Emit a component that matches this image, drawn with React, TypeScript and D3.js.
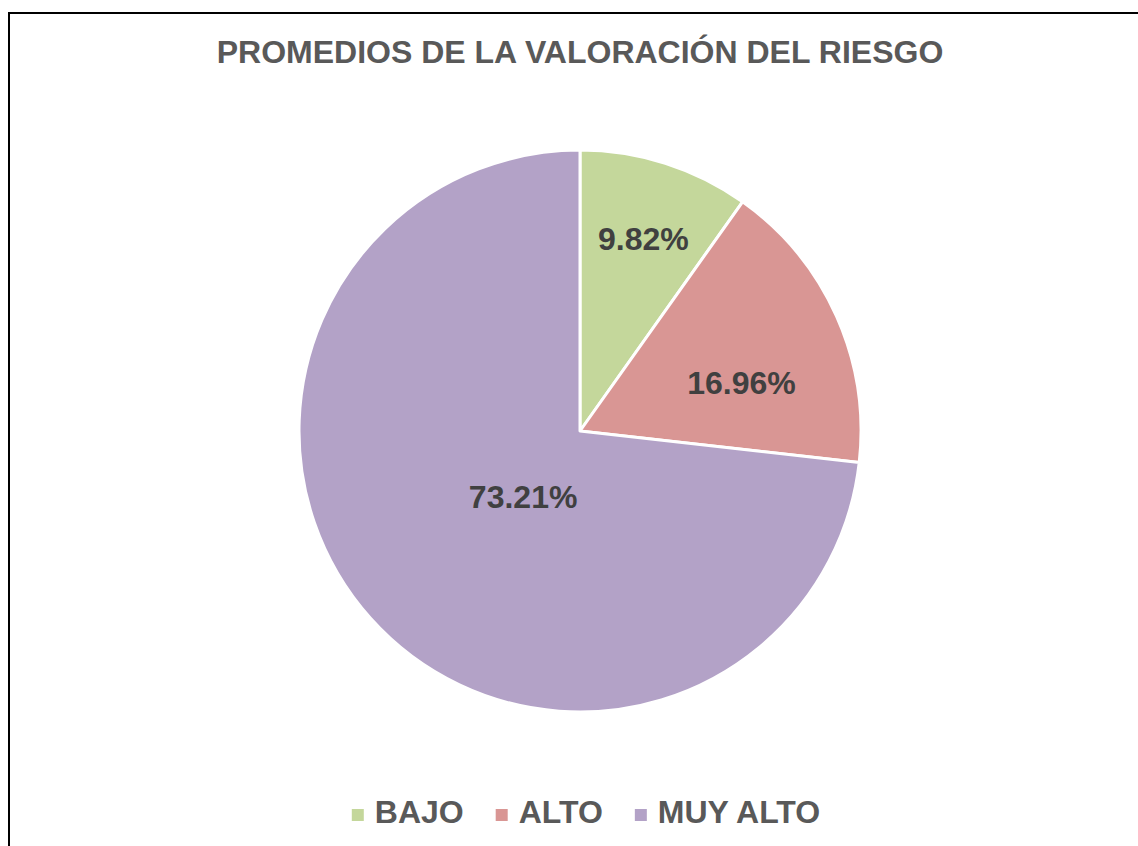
import React, { useEffect, useRef } from 'react';
import * as d3 from 'd3';

const categories = ['BAJO', 'ALTO', 'MUY ALTO'];
const values = [9.82, 16.96, 73.21];
const colors = ['#C4D79B', '#D99694', '#B3A2C7'];
const title = 'PROMEDIOS DE LA VALORACIÓN DEL RIESGO';

// best-fit label placement: radius fraction and angle nudge per slice
const labelRadius = [0.72, 0.6, 0.31];
const labelAngle = [0.01, 0.13, -0.13];

const W = 1138;
const H = 846;
const FONT = '"Liberation Sans", Arial, sans-serif';

export default function App() {
  const ref = useRef<SVGSVGElement>(null);

  useEffect(() => {
    if (!ref.current) return;
    const svg = d3.select(ref.current);
    svg.selectAll('*').remove();

    svg.append('rect')
      .attr('width', W).attr('height', H).attr('fill', '#fff');

    // chart frame
    svg.append('rect')
      .attr('x', 9).attr('y', 13)
      .attr('width', W + 20).attr('height', H + 20)
      .attr('fill', 'none').attr('stroke', '#000').attr('stroke-width', 2);

    svg.append('text')
      .attr('x', 580).attr('y', 52)
      .attr('dy', '0.35em')
      .attr('text-anchor', 'middle')
      .attr('font-family', FONT)
      .attr('font-weight', 'bold')
      .attr('font-size', '32px')
      .attr('fill', '#595959')
      .text(title);

    const cx = 580, cy = 431, r = 281;
    const data = categories.map((c, i) => ({ c, v: values[i], i }));

    const pie = d3.pie<typeof data[0]>().value(d => d.v).sort(null);
    const arcs = pie(data);
    const arc = d3.arc<d3.PieArcDatum<typeof data[0]>>().innerRadius(0).outerRadius(r);

    const g = svg.append('g').attr('transform', `translate(${cx},${cy})`);

    g.selectAll('path.slice')
      .data(arcs)
      .enter().append('path')
      .attr('class', 'slice')
      .attr('d', arc)
      .attr('fill', d => colors[d.data.i])
      .attr('stroke', '#fff')
      .attr('stroke-width', 3)
      .attr('stroke-linejoin', 'round');

    g.selectAll('text.lbl')
      .data(arcs)
      .enter().append('text')
      .attr('class', 'lbl')
      .attr('transform', d => {
        const i = d.data.i;
        const a = (d.startAngle + d.endAngle) / 2 + labelAngle[i];
        const lr = r * labelRadius[i];
        return `translate(${lr * Math.sin(a)},${-lr * Math.cos(a)})`;
      })
      .attr('dy', '0.35em')
      .attr('text-anchor', 'middle')
      .attr('font-family', FONT)
      .attr('font-weight', 'bold')
      .attr('font-size', '32px')
      .attr('fill', '#404040')
      .text(d => d.data.v.toFixed(2) + '%');

    // legend
    const legend = svg.append('g');
    const items = legend.selectAll('g.item')
      .data(data)
      .enter().append('g')
      .attr('class', 'item');

    items.append('rect')
      .attr('width', 12).attr('height', 12)
      .attr('y', -3)
      .attr('fill', d => colors[d.i]);

    items.append('text')
      .attr('x', 23)
      .attr('dy', '0.35em')
      .attr('font-family', FONT)
      .attr('font-weight', 'bold')
      .attr('font-size', '32px')
      .attr('fill', '#595959')
      .text(d => d.c);

    let x = 0;
    items.each(function () {
      const node = this as SVGGElement;
      d3.select(node).attr('transform', `translate(${x},0)`);
      x += node.getBBox().width + 32;
    });
    const total = x - 32;
    legend.attr('transform', `translate(${586 - total / 2},812)`);
  }, []);

  return (
    <svg
      ref={ref}
      width={W}
      height={H}
      style={{ position: 'absolute', left: 0, top: 0, display: 'block' }}
    />
  );
}
